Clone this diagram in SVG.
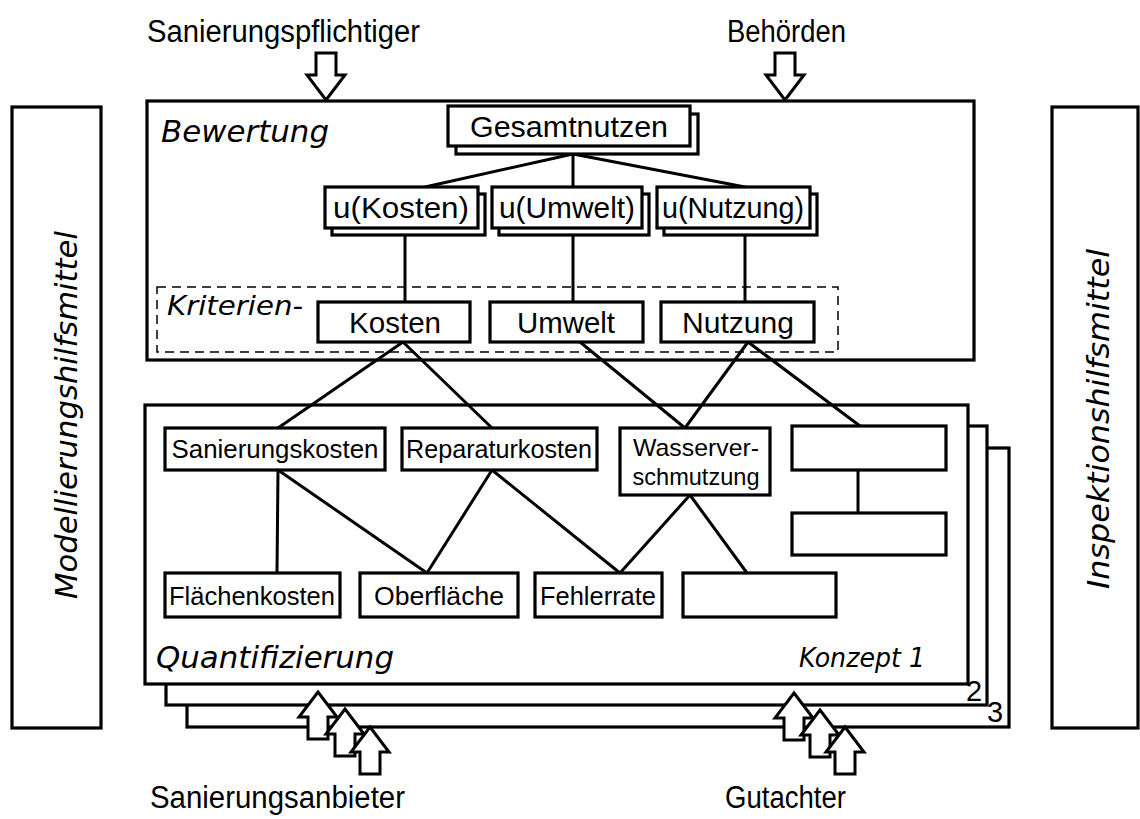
<svg xmlns="http://www.w3.org/2000/svg" xmlns:xlink="http://www.w3.org/1999/xlink" width="1140" height="819" viewBox="0 0 1140 819">
  <style>
    .box { fill: #fff; stroke: #000; stroke-width: 3.2; }
    .frame { fill: #fff; stroke: #000; stroke-width: 3.2; }
    .dash { fill: none; stroke: #000; stroke-width: 1.5; stroke-dasharray: 9 6; }
    .edge { stroke: #000; stroke-width: 3; fill: none; }
    .arrow { fill: #fff; stroke: #000; stroke-width: 3; stroke-linejoin: miter; }
    .lbl { font-family: "Liberation Sans", Arial, sans-serif; fill: #000; }
    .ital { font-family: "DejaVu Sans", sans-serif; font-style: oblique; fill: #000; }
    .mid { text-anchor: middle; }
  </style>
  <defs>
    <!-- hollow block arrows, tip at origin -->
    <path id="arrUp" class="arrow" d="M0,0 L19,25 L10,25 L10,47 L-10,47 L-10,25 L-19,25 Z"/>
    <path id="arrDown" class="arrow" d="M0,0 L19,-25 L10,-25 L10,-47 L-10,-47 L-10,-25 L-19,-25 Z"/>
  </defs>
  <rect width="1140" height="819" fill="#fff"/>

  <!-- actors above -->
  <g id="actor-sanierungspflichtiger">
    <text class="lbl" x="147" y="42" font-size="31" textLength="273" lengthAdjust="spacingAndGlyphs">Sanierungspflichtiger</text>
    <use xlink:href="#arrDown" x="326" y="100"/>
  </g>
  <g id="actor-behoerden">
    <text class="lbl" x="727" y="42" font-size="31" textLength="119" lengthAdjust="spacingAndGlyphs">Behörden</text>
    <use xlink:href="#arrDown" x="785" y="100"/>
  </g>

  <!-- side panels -->
  <g id="modellierungshilfsmittel">
    <rect class="box" x="12" y="107" width="89" height="621"/>
    <text class="ital mid" font-size="30" textLength="368" lengthAdjust="spacingAndGlyphs" transform="translate(77 415) rotate(-90)">Modellierungshilfsmittel</text>
  </g>
  <g id="inspektionshilfsmittel">
    <rect class="box" x="1052" y="107" width="86" height="621"/>
    <text class="ital mid" font-size="30" textLength="340" lengthAdjust="spacingAndGlyphs" transform="translate(1109 419) rotate(-90)">Inspektionshilfsmittel</text>
  </g>

  <!-- evaluation layer -->
  <g id="bewertung">
    <rect class="frame" x="147" y="101" width="827" height="259"/>
    <text class="ital" x="161" y="142" font-size="31" textLength="168" lengthAdjust="spacingAndGlyphs">Bewertung</text>
  </g>
  <g id="kriterien">
    <rect class="dash" x="157" y="287" width="681" height="65"/>
    <text class="ital" x="167" y="315" font-size="27" textLength="136" lengthAdjust="spacingAndGlyphs">Kriterien-</text>
  </g>

  <!-- quantification layer: concept pages 3, 2, 1 -->
  <g id="konzept-3">
    <rect class="frame" x="187" y="448" width="822" height="279"/>
    <text class="lbl" x="987" y="722" font-size="29">3</text>
  </g>
  <g id="konzept-2">
    <rect class="frame" x="166" y="426" width="821" height="279"/>
    <text class="lbl" x="966" y="701" font-size="29">2</text>
  </g>
  <g id="quantifizierung">
    <rect class="frame" x="145" y="405" width="823" height="279"/>
    <text class="ital" x="156" y="668" font-size="31" textLength="238" lengthAdjust="spacingAndGlyphs">Quantifizierung</text>
    <text class="ital" x="799" y="667" font-size="26" textLength="126" lengthAdjust="spacingAndGlyphs">Konzept 1</text>
  </g>

  <!-- connectors -->
  <g id="connectors" class="edge">
    <line x1="573" y1="154" x2="425" y2="187"/>
    <line x1="573" y1="154" x2="573" y2="187"/>
    <line x1="573" y1="154" x2="745" y2="187"/>
    <line x1="405" y1="235" x2="405" y2="302"/>
    <line x1="573" y1="235" x2="573" y2="302"/>
    <line x1="745" y1="235" x2="745" y2="302"/>
    <line x1="403" y1="342" x2="278" y2="428"/>
    <line x1="403" y1="342" x2="492" y2="428"/>
    <line x1="580" y1="342" x2="685" y2="428"/>
    <line x1="748" y1="342" x2="685" y2="428"/>
    <line x1="748" y1="342" x2="860" y2="426"/>
    <line x1="278" y1="470" x2="277" y2="573"/>
    <line x1="278" y1="470" x2="427" y2="573"/>
    <line x1="492" y1="470" x2="427" y2="573"/>
    <line x1="492" y1="470" x2="620" y2="573"/>
    <line x1="690" y1="495" x2="620" y2="573"/>
    <line x1="690" y1="495" x2="747" y2="573"/>
    <line x1="858" y1="470" x2="858" y2="513"/>
  </g>

  <!-- value nodes -->
  <g id="gesamtnutzen">
    <rect class="box" x="456" y="114" width="242" height="40"/>
    <rect class="box" x="448" y="106" width="242" height="40"/>
    <text class="lbl mid" x="569" y="137" font-size="30" textLength="198" lengthAdjust="spacingAndGlyphs">Gesamtnutzen</text>
  </g>
  <g id="u-kosten">
    <rect class="box" x="332" y="194" width="153" height="41"/>
    <rect class="box" x="325" y="187" width="153" height="41"/>
    <text class="lbl mid" x="401" y="218" font-size="30" textLength="136" lengthAdjust="spacingAndGlyphs">u(Kosten)</text>
  </g>
  <g id="u-umwelt">
    <rect class="box" x="499" y="194" width="150" height="41"/>
    <rect class="box" x="492" y="187" width="150" height="41"/>
    <text class="lbl mid" x="567" y="218" font-size="30" textLength="136" lengthAdjust="spacingAndGlyphs">u(Umwelt)</text>
  </g>
  <g id="u-nutzung">
    <rect class="box" x="664" y="194" width="153" height="41"/>
    <rect class="box" x="657" y="187" width="153" height="41"/>
    <text class="lbl mid" x="733" y="218" font-size="30" textLength="142" lengthAdjust="spacingAndGlyphs">u(Nutzung)</text>
  </g>

  <!-- criteria -->
  <g id="kosten">
    <rect class="box" x="318" y="302" width="152" height="40"/>
    <text class="lbl mid" x="395" y="333" font-size="30" textLength="92" lengthAdjust="spacingAndGlyphs">Kosten</text>
  </g>
  <g id="umwelt">
    <rect class="box" x="490" y="302" width="153" height="40"/>
    <text class="lbl mid" x="566" y="333" font-size="30" textLength="98" lengthAdjust="spacingAndGlyphs">Umwelt</text>
  </g>
  <g id="nutzung">
    <rect class="box" x="661" y="302" width="153" height="40"/>
    <text class="lbl mid" x="738" y="333" font-size="30" textLength="112" lengthAdjust="spacingAndGlyphs">Nutzung</text>
  </g>

  <!-- quantities -->
  <g id="sanierungskosten">
    <rect class="box" x="165" y="428" width="220" height="42"/>
    <text class="lbl mid" x="275" y="458" font-size="26" textLength="207" lengthAdjust="spacingAndGlyphs">Sanierungskosten</text>
  </g>
  <g id="reparaturkosten">
    <rect class="box" x="402" y="428" width="195" height="42"/>
    <text class="lbl mid" x="499" y="458" font-size="26" textLength="186" lengthAdjust="spacingAndGlyphs">Reparaturkosten</text>
  </g>
  <g id="wasserverschmutzung">
    <rect class="box" x="620" y="428" width="150" height="67"/>
    <text class="lbl mid" x="696" y="456" font-size="24" textLength="126" lengthAdjust="spacingAndGlyphs">Wasserver-</text>
    <text class="lbl mid" x="696" y="485" font-size="24" textLength="127" lengthAdjust="spacingAndGlyphs">schmutzung</text>
  </g>
  <g id="leer-oben">
    <rect class="box" x="792" y="426" width="154" height="44"/>
  </g>
  <g id="leer-mitte">
    <rect class="box" x="792" y="513" width="154" height="42"/>
  </g>
  <g id="flaechenkosten">
    <rect class="box" x="165" y="573" width="175" height="44"/>
    <text class="lbl mid" x="252" y="605" font-size="26" textLength="166" lengthAdjust="spacingAndGlyphs">Flächenkosten</text>
  </g>
  <g id="oberflaeche">
    <rect class="box" x="360" y="573" width="158" height="44"/>
    <text class="lbl mid" x="439" y="605" font-size="26" textLength="130" lengthAdjust="spacingAndGlyphs">Oberfläche</text>
  </g>
  <g id="fehlerrate">
    <rect class="box" x="535" y="573" width="127" height="44"/>
    <text class="lbl mid" x="598" y="605" font-size="26" textLength="116" lengthAdjust="spacingAndGlyphs">Fehlerrate</text>
  </g>
  <g id="leer-unten">
    <rect class="box" x="683" y="573" width="153" height="44"/>
  </g>

  <!-- suppliers and experts feeding the concepts -->
  <g id="actor-sanierungsanbieter">
    <use xlink:href="#arrUp" x="318" y="692"/>
    <use xlink:href="#arrUp" x="345" y="709"/>
    <use xlink:href="#arrUp" x="370" y="727"/>
    <text class="lbl" x="150" y="808" font-size="31" textLength="255" lengthAdjust="spacingAndGlyphs">Sanierungsanbieter</text>
  </g>
  <g id="actor-gutachter">
    <use xlink:href="#arrUp" x="794" y="693"/>
    <use xlink:href="#arrUp" x="820" y="710"/>
    <use xlink:href="#arrUp" x="845" y="727"/>
    <text class="lbl" x="725" y="808" font-size="31" textLength="121" lengthAdjust="spacingAndGlyphs">Gutachter</text>
  </g>
</svg>
